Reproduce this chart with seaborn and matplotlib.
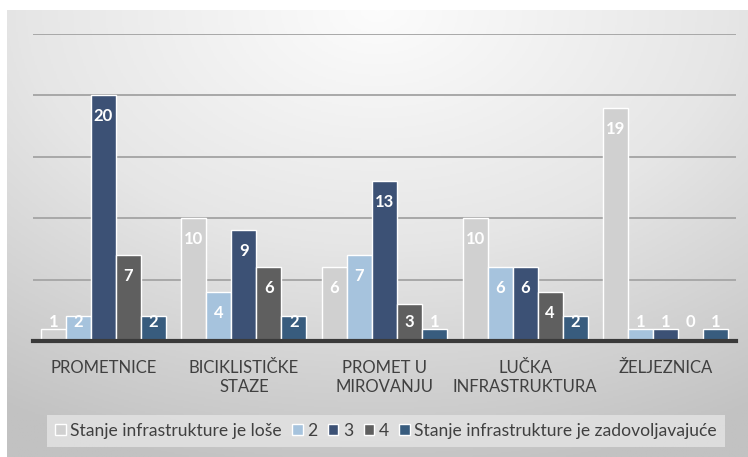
import numpy as np
import pandas as pd
import matplotlib
matplotlib.use("Agg")
import matplotlib.pyplot as plt
import seaborn as sns
from matplotlib.colors import LinearSegmentedColormap

categories = ["PROMETNICE", "BICIKLISTIČKE\nSTAZE", "PROMET U\nMIROVANJU",
              "LUČKA\nINFRASTRUKTURA", "ŽELJEZNICA"]
series = ["Stanje infrastrukture je loše", "2", "3", "4",
          "Stanje infrastrukture je zadovoljavajuće"]
values = {
    series[0]: [1, 10, 6, 10, 19],
    series[1]: [2, 4, 7, 6, 1],
    series[2]: [20, 9, 13, 6, 1],
    series[3]: [7, 6, 3, 4, 0],
    series[4]: [2, 2, 1, 2, 1],
}
colors = ["#d0d0d0", "#9dc3e6", "#334e7e", "#5f5f5f", "#2c5d8a"]

rows = []
for s in series:
    for c, v in zip(categories, values[s]):
        rows.append({"kategorija": c, "serija": s, "broj": v})
df = pd.DataFrame(rows)

sns.set_style("white")
plt.rcParams["font.family"] = ["Lato", "DejaVu Sans"]

fig = plt.figure(figsize=(7.48, 4.57), dpi=100)

# gradient background panel
bg = fig.add_axes([7 / 748, 0, 741 / 748, 447 / 457], zorder=0)
yy, xx = np.mgrid[0:1:300j, 0:1:500j]
r = np.sqrt(((xx - 0.5) * 1.0) ** 2 + ((yy - 0.0) * 0.9) ** 2)
grad = np.clip(r / 0.95, 0, 1)
cmap = LinearSegmentedColormap.from_list("bg", ["#fcfcfc", "#e6e6e6", "#c2c2c2"])
bg.imshow(grad, cmap=cmap, vmin=0, vmax=1, aspect="auto", extent=[0, 1, 1, 0])
bg.set_axis_off()

ax = fig.add_axes([33 / 748, 1 - 341 / 457, 703 / 748, 307 / 457], zorder=1)
ax.patch.set_alpha(0)
sns.barplot(data=df, x="kategorija", y="broj", hue="serija", hue_order=series,
            palette=colors, width=0.89, edgecolor="white", linewidth=1.0,
            ax=ax, legend=True)

ax.set_ylim(0, 25)
ax.set_xlim(-0.5, 4.5)
ax.set_yticks([0, 5, 10, 15, 20, 25])
ax.set_yticklabels([])
ax.tick_params(axis="y", length=0)
ax.tick_params(axis="x", length=0, pad=14, labelsize=12, labelcolor="#404040")
ax.grid(axis="y", color="#a8a8a8", linewidth=1.4)
ax.set_axisbelow(True)
for side in ["top", "right", "left"]:
    ax.spines[side].set_visible(False)
ax.spines["bottom"].set_color("#3a3a3a")
ax.spines["bottom"].set_linewidth(3)
ax.set_xlabel("")
ax.set_ylabel("")

for cont in ax.containers:
    for bar in cont:
        h = bar.get_height()
        ax.text(bar.get_x() + bar.get_width() / 2, max(h - 1.7, 1.55),
                f"{int(round(h))}", ha="center", va="center", color="white",
                fontsize=12, fontweight="bold")

handles, labels = ax.get_legend_handles_labels()
ax.get_legend().remove()
leg = fig.legend(handles, labels, loc="center", bbox_to_anchor=(386 / 748, 1 - 431 / 457),
                 ncol=5, frameon=True, fontsize=12.6, handlelength=0.6, handleheight=0.6,
                 handletextpad=0.25, columnspacing=0.6, borderpad=0.45, labelcolor="#404040",
                 fancybox=False)
leg.get_frame().set_facecolor("#e2e2e2")
leg.get_frame().set_edgecolor("none")
leg.get_frame().set_alpha(0.85)

fig.savefig("out.png", dpi=100, facecolor="white")
plt.close(fig)
